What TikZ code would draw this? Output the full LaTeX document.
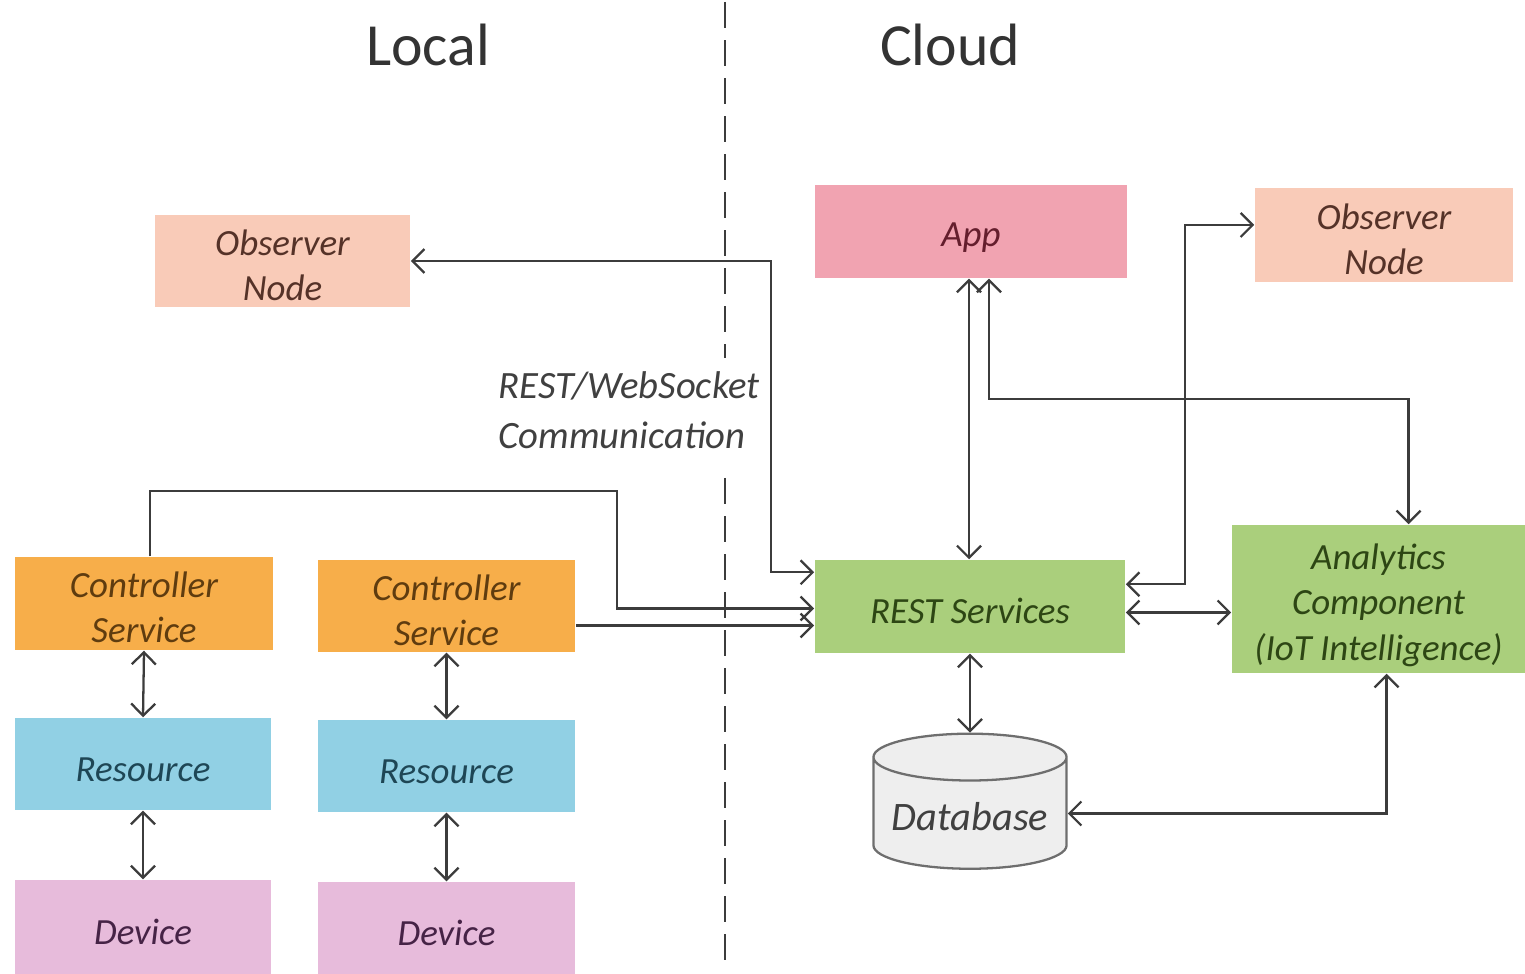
\documentclass[tikz,border=0pt]{standalone}
\usepackage{fontspec}
\setmainfont{Carlito}
\usetikzlibrary{arrows.meta,calc,shapes.geometric}

\definecolor{linec}{RGB}{60,60,60}
\definecolor{obsfill}{RGB}{249,203,184}
\definecolor{obstext}{RGB}{85,50,40}
\definecolor{appfill}{RGB}{241,163,177}
\definecolor{apptext}{RGB}{100,30,45}
\definecolor{ctlfill}{RGB}{247,174,74}
\definecolor{ctltext}{RGB}{95,60,15}
\definecolor{resfill}{RGB}{145,208,228}
\definecolor{restext}{RGB}{30,70,85}
\definecolor{devfill}{RGB}{231,187,219}
\definecolor{devtext}{RGB}{70,35,70}
\definecolor{grnfill}{RGB}{170,207,124}
\definecolor{grntext}{RGB}{45,70,20}
\definecolor{dbfill}{RGB}{238,238,238}
\definecolor{dbline}{RGB}{110,110,110}

\tikzset{
  % the invisible rule lowers the text a little inside its box
  lowered/.style={execute at begin node={\rule{0pt}{#1}}},
  box/.style={draw=none, inner sep=0pt, align=center,
    font=\fontsize{10.5}{12.8}\selectfont\itshape, lowered=10pt},
  box2/.style={box, lowered=22.5pt},
  box3/.style={box, lowered=36.5pt},
  wire/.style={draw=linec, line width=0.65pt},
  onehead/.style={wire, -{Straight Barb[length=1.2mm,width=2.4mm]}},
  twohead/.style={wire, {Straight Barb[length=1.2mm,width=2.4mm]}-{Straight Barb[length=1.2mm,width=2.4mm]}},
  title/.style={font=\fontsize{17}{20}\selectfont, text=black!80},
  divider/.style={draw=linec, line width=0.65pt, dash pattern=on 0.26cm off 0.12cm},
}

\begin{document}
\begin{tikzpicture}[x=0.01cm, y=-0.01cm]
\useasboundingbox (0,0) rectangle (1525,974);

% divider between the local side and the cloud side (interrupted by the protocol label)
\draw[divider] (725,2) -- (725,358);
\draw[divider] (725,478) -- (725,960);

% headings
\node[title] (local) at (428,45) {Local};
\node[title] (cloud) at (950,45) {Cloud};

% protocol label
\node[inner sep=2pt, align=left, anchor=west,
      font=\fontsize{11}{14.2}\selectfont\itshape, text=black!75]
  (proto) at (491,410) {REST/WebSocket\\Communication};

% local components
\node[box2, fill=obsfill, text=obstext, minimum width=2.55cm, minimum height=0.92cm] (obsL) at (282.5,261) {Observer\\Node};
\node[box2, fill=ctlfill, text=ctltext, minimum width=2.58cm, minimum height=0.93cm] (cs1) at (144,603.5) {Controller\\Service};
\node[box2, fill=ctlfill, text=ctltext, minimum width=2.57cm, minimum height=0.92cm] (cs2) at (446.5,606) {Controller\\Service};
\node[box, fill=resfill, text=restext, minimum width=2.56cm, minimum height=0.92cm] (res1) at (143,764) {Resource};
\node[box, fill=resfill, text=restext, minimum width=2.57cm, minimum height=0.92cm] (res2) at (446.5,766) {Resource};
\node[box, fill=devfill, text=devtext, minimum width=2.56cm, minimum height=0.94cm] (dev1) at (143,927) {Device};
\node[box, fill=devfill, text=devtext, minimum width=2.57cm, minimum height=0.92cm] (dev2) at (446.5,928) {Device};

% cloud components
\node[box, fill=appfill, text=apptext, minimum width=3.12cm, minimum height=0.93cm] (app) at (971,231.5) {App};
\node[box2, fill=obsfill, text=obstext, minimum width=2.58cm, minimum height=0.94cm] (obsR) at (1384,235) {Observer\\Node};
\node[box, fill=grnfill, text=grntext, minimum width=3.10cm, minimum height=0.93cm] (rest) at (970,606.5) {REST Services};
\node[box3, fill=grnfill, text=grntext, minimum width=2.93cm, minimum height=1.48cm] (ana) at (1378.5,599) {Analytics\\Component\\(IoT Intelligence)};
\node[cylinder, shape border rotate=90, aspect=0.3, draw=dbline, line width=0.65pt,
      fill=dbfill, minimum width=1.93cm, minimum height=1.35cm, inner sep=0pt,
      font=\fontsize{11.5}{14}\selectfont\itshape, text=black!75] (db) at (970,813.5)
      {\rule{0pt}{9.8pt}Database};

% attachment points on the REST services box
\coordinate (rIn1) at ($(rest.north west)+(0,13)$);
\coordinate (rIn2) at ($(rest.west)+(0,2)$);
\coordinate (rIn3) at ($(rest.west)+(0,19)$);
\coordinate (rOut1) at ($(rest.north east)+(0,25)$);
\coordinate (rOut2) at ($(rest.east)+(0,6)$);

% connectors
\draw[twohead] (obsL.east) -| ($(rIn1)+(-43,0)$) -- (rIn1);
\draw[onehead] ($(cs1.north)+(6,0)$) -- ++(0,-65) -| ($(rIn2)+(-197,0)$) -- (rIn2);
\draw[onehead] (cs2.east |- rIn3) -- (rIn3);
\draw[twohead] ($(app.south)+(-2,0)$) -- ($(rest.north)+(-1,0)$);
\draw[twohead] ($(app.south)+(18,0)$) |- ($(ana.north)+(30,-125)$) -- ($(ana.north)+(30,0)$);
\draw[twohead] (rOut1) -| ($(obsR.west)+(-69,-10)$) -- ($(obsR.west)+(0,-10)$);
\draw[twohead] (rOut2) -- (ana.west |- rOut2);
\draw[twohead] (rest.south) -- (rest.south |- db.north);
\draw[twohead] (db.east) -| ($(ana.south)+(8,0)$);

\draw[twohead] (cs1.south) -- (res1.north);
\draw[twohead] (res1.south) -- (dev1.north);
\draw[twohead] (cs2.south) -- (res2.north);
\draw[twohead] (res2.south) -- (dev2.north);
\end{tikzpicture}
\end{document}
